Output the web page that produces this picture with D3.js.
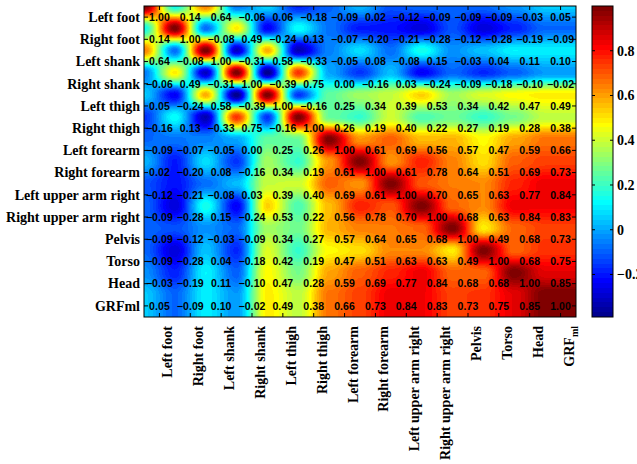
<!DOCTYPE html>
<html lang="en">
<head>
  <meta charset="UTF-8">
  <title>Correlation matrix</title>
  <script src="https://d3js.org/d3.v7.min.js"></script>
  <style>
    html, body { margin: 0; padding: 0; background: #fff; }
    svg { display: block; }
    .lab { font-family: "Liberation Serif", "Times New Roman", serif; font-weight: bold; font-size: 14px; fill: #000; }
    .val { font-family: "Liberation Sans", Arial, sans-serif; font-weight: bold; font-size: 10.5px; fill: #000; letter-spacing: 0.1px; }
  </style>
</head>
<body>
  <div id="chart"></div>

  <script>
    // segment names (rows and columns share the same order)
    const rowLabels = ['Left foot', 'Right foot', 'Left shank', 'Right shank', 'Left thigh', 'Right thigh',
      'Left forearm', 'Right forearm', 'Left upper arm right', 'Right upper arm right', 'Pelvis', 'Torso', 'Head', 'GRFml'];
    const colLabels = ['Left foot', 'Right foot', 'Left shank', 'Right shank', 'Left thigh', 'Right thigh',
      'Left forearm', 'Right forearm', 'Left upper arm right', 'Right upper arm right', 'Pelvis', 'Torso', 'Head', 'GRF'];

    // correlation coefficients, one array per row
    const leftFoot    = [1.00, 0.14, 0.64, -0.06, 0.06, -0.18, -0.09, 0.02, -0.12, -0.09, -0.09, -0.09, -0.03, 0.05];
    const rightFoot   = [0.14, 1.00, -0.08, 0.49, -0.24, 0.13, -0.07, -0.20, -0.21, -0.28, -0.12, -0.28, -0.19, -0.09];
    const leftShank   = [0.64, -0.08, 1.00, -0.31, 0.58, -0.33, -0.05, 0.08, -0.08, 0.15, -0.03, 0.04, 0.11, 0.10];
    const rightShank  = [-0.06, 0.49, -0.31, 1.00, -0.39, 0.75, 0.00, -0.16, 0.03, -0.24, -0.09, -0.18, -0.10, -0.02];
    const leftThigh   = [0.05, -0.24, 0.58, -0.39, 1.00, -0.16, 0.25, 0.34, 0.39, 0.53, 0.34, 0.42, 0.47, 0.49];
    const rightThigh  = [-0.16, 0.13, -0.33, 0.75, -0.16, 1.00, 0.26, 0.19, 0.40, 0.22, 0.27, 0.19, 0.28, 0.38];
    const leftForearm = [-0.09, -0.07, -0.05, 0.00, 0.25, 0.26, 1.00, 0.61, 0.69, 0.56, 0.57, 0.47, 0.59, 0.66];
    const rightForearm= [0.02, -0.20, 0.08, -0.16, 0.34, 0.19, 0.61, 1.00, 0.61, 0.78, 0.64, 0.51, 0.69, 0.73];
    const leftUpper   = [-0.12, -0.21, -0.08, 0.03, 0.39, 0.40, 0.69, 0.61, 1.00, 0.70, 0.65, 0.63, 0.77, 0.84];
    const rightUpper  = [-0.09, -0.28, 0.15, -0.24, 0.53, 0.22, 0.56, 0.78, 0.70, 1.00, 0.68, 0.63, 0.84, 0.83];
    const pelvis      = [-0.09, -0.12, -0.03, -0.09, 0.34, 0.27, 0.57, 0.64, 0.65, 0.68, 1.00, 0.49, 0.68, 0.73];
    const torso       = [-0.09, -0.28, 0.04, -0.18, 0.42, 0.19, 0.47, 0.51, 0.63, 0.63, 0.49, 1.00, 0.68, 0.75];
    const head        = [-0.03, -0.19, 0.11, -0.10, 0.47, 0.28, 0.59, 0.69, 0.77, 0.84, 0.68, 0.68, 1.00, 0.85];
    const grfml       = [0.05, -0.09, 0.10, -0.02, 0.49, 0.38, 0.66, 0.73, 0.84, 0.83, 0.73, 0.75, 0.85, 1.00];

    const matrix = [leftFoot, rightFoot, leftShank, rightShank, leftThigh, rightThigh, leftForearm,
      rightForearm, leftUpper, rightUpper, pelvis, torso, head, grfml];

    const colorTicks = [-0.2, 0, 0.2, 0.4, 0.6, 0.8];

    // matlab style jet colormap, 64 entries
    function jetMap(m) {
      const n = Math.ceil(m / 4);
      const u = [];
      for (let i = 1; i <= n; i++) u.push(i / n);
      for (let i = 1; i < n; i++) u.push(1);
      for (let i = n; i >= 1; i--) u.push(i / n);
      const off = Math.ceil(n / 2) - (m % 4 === 1 ? 1 : 0);
      const J = d3.range(m).map(() => [0, 0, 0]);
      u.forEach((val, k) => {
        const g = off + k + 1, r = g + n, b = g - n;
        if (r >= 1 && r <= m) J[r - 1][0] = val;
        if (g >= 1 && g <= m) J[g - 1][1] = val;
        if (b >= 1 && b <= m) J[b - 1][2] = val;
      });
      return J.map(c => c.map(v => Math.round(v * 255)));
    }
    const jet = jetMap(64);

    // eased weight so each grid value forms a soft blob
    const ease = t => t * t * (3 - 2 * t);

    function drawChart() {
      const W = 637, H = 464;
      const left = 144, right = 576, top = 6, bottom = 317;
      const n = rowLabels.length;

      const svg = d3.select('#chart').append('svg')
        .attr('width', W)
        .attr('height', H);

      const cmin = d3.min(matrix, r => d3.min(r));
      const cmax = d3.max(matrix, r => d3.max(r));
      const cidx = d3.scaleQuantize().domain([cmin, cmax]).range(d3.range(64));

      const x = d3.scaleBand().domain(d3.range(n)).range([left, right]);
      const y = d3.scaleBand().domain(d3.range(n)).range([top, bottom]);
      // continuous index scales for the interpolated field
      const xi = d3.scaleLinear().domain([0, n]).range([left, right]);
      const yi = d3.scaleLinear().domain([0, n]).range([top, bottom]);

      // interpolated shading, grid values sit on the cell corners
      const cw = Math.round(right - left), ch = Math.round(bottom - top);
      const canvas = document.createElement('canvas');
      canvas.width = cw;
      canvas.height = ch;
      const ctx = canvas.getContext('2d');
      const img = ctx.createImageData(cw, ch);
      for (let py = 0; py < ch; py++) {
        const v = Math.min(yi.invert(top + py + 0.5), n - 1e-6);
        const i0 = Math.floor(v), i1 = Math.min(i0 + 1, n - 1);
        const fy = ease(v - i0);
        for (let px = 0; px < cw; px++) {
          const u = Math.min(xi.invert(left + px + 0.5), n - 1e-6);
          const j0 = Math.floor(u), j1 = Math.min(j0 + 1, n - 1);
          const fx = ease(u - j0);
          const a = matrix[i0][j0] + fx * (matrix[i0][j1] - matrix[i0][j0]);
          const b = matrix[i1][j0] + fx * (matrix[i1][j1] - matrix[i1][j0]);
          const c = jet[cidx(a + fy * (b - a))];
          const o = (py * cw + px) * 4;
          img.data[o] = c[0]; img.data[o + 1] = c[1]; img.data[o + 2] = c[2]; img.data[o + 3] = 255;
        }
      }
      ctx.putImageData(img, 0, 0);

      svg.append('image')
        .attr('x', left).attr('y', top)
        .attr('width', cw).attr('height', ch)
        .attr('preserveAspectRatio', 'none')
        .attr('href', canvas.toDataURL());

      // cell values
      const cells = [];
      matrix.forEach((row, i) => row.forEach((v, j) => cells.push({ i, j, v })));
      svg.append('g').selectAll('text').data(cells).join('text')
        .attr('class', 'val')
        .attr('x', d => x(d.j) + x.bandwidth() / 2)
        .attr('y', d => y(d.i) + y.bandwidth() / 2)
        .attr('dy', '0.36em')
        .attr('text-anchor', 'middle')
        .text(d => d3.format('.2f')(d.v));

      // frame and inward ticks
      svg.append('rect')
        .attr('x', left).attr('y', top)
        .attr('width', right - left).attr('height', bottom - top)
        .attr('fill', 'none').attr('stroke', '#000').attr('stroke-width', 1);

      const tk = 4;
      const ticks = svg.append('g').attr('stroke', '#000').attr('stroke-width', 1);
      d3.range(n).forEach(k => {
        const cx = x(k) + x.bandwidth() / 2, cy = y(k) + y.bandwidth() / 2;
        ticks.append('line').attr('x1', cx).attr('x2', cx).attr('y1', bottom).attr('y2', bottom - tk);
        ticks.append('line').attr('x1', cx).attr('x2', cx).attr('y1', top).attr('y2', top + tk);
        ticks.append('line').attr('x1', left).attr('x2', left + tk).attr('y1', cy).attr('y2', cy);
        ticks.append('line').attr('x1', right).attr('x2', right - tk).attr('y1', cy).attr('y2', cy);
      });

      // row labels
      svg.append('g').selectAll('text').data(rowLabels).join('text')
        .attr('class', 'lab')
        .attr('x', left - 4)
        .attr('y', (d, i) => y(i) + y.bandwidth() / 2)
        .attr('dy', '0.34em')
        .attr('text-anchor', 'end')
        .text(d => d);

      // rotated column labels
      const xl = svg.append('g').selectAll('text').data(colLabels).join('text')
        .attr('class', 'lab')
        .attr('text-anchor', 'end')
        .attr('transform', (d, i) => `translate(${x(i) + x.bandwidth() / 2 + 13},${bottom + 9}) rotate(-90)`);
      xl.append('tspan').text(d => d);
      xl.filter(d => d === 'GRF').append('tspan')
        .attr('font-size', '10px')
        .attr('dy', 4)
        .text('ml');

      // colorbar
      const cbx = 592, cbw = 21;
      const cy = d3.scaleLinear().domain([cmin, cmax]).range([bottom, top]);
      const grad = svg.append('defs').append('linearGradient')
        .attr('id', 'jetbar').attr('x1', 0).attr('y1', 1).attr('x2', 0).attr('y2', 0);
      jet.forEach((c, k) => {
        grad.append('stop').attr('offset', k / 64).attr('stop-color', `rgb(${c})`);
        grad.append('stop').attr('offset', (k + 1) / 64).attr('stop-color', `rgb(${c})`);
      });
      svg.append('rect')
        .attr('x', cbx).attr('y', top)
        .attr('width', cbw).attr('height', bottom - top)
        .attr('fill', 'url(#jetbar)')
        .attr('stroke', '#000').attr('stroke-width', 1);

      const cbt = svg.append('g');
      colorTicks.forEach(t => {
        cbt.append('line').attr('x1', cbx).attr('x2', cbx + 3).attr('y1', cy(t)).attr('y2', cy(t)).attr('stroke', '#000');
        cbt.append('line').attr('x1', cbx + cbw).attr('x2', cbx + cbw - 3).attr('y1', cy(t)).attr('y2', cy(t)).attr('stroke', '#000');
        cbt.append('text')
          .attr('class', 'lab')
          .attr('x', cbx + cbw + 4)
          .attr('y', cy(t))
          .attr('dy', '0.34em')
          .text(d3.format('')(t));
      });
    }

    document.addEventListener('DOMContentLoaded', drawChart);
  </script>
</body>
</html>
